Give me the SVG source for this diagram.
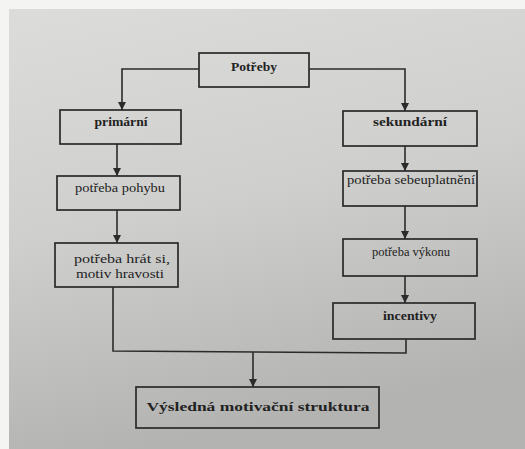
<svg xmlns="http://www.w3.org/2000/svg" width="525" height="449" viewBox="0 0 525 449">
<defs>
<linearGradient id="pg" x1="0" y1="0" x2="0.25" y2="1">
<stop offset="0" stop-color="#dcdcda"/>
<stop offset="0.5" stop-color="#cfcfcd"/>
<stop offset="1" stop-color="#b3b3b1"/>
</linearGradient>
<marker id="ah" viewBox="0 0 10 10" refX="10" refY="5" markerWidth="8" markerHeight="9" markerUnits="userSpaceOnUse" orient="auto">
<path d="M0,0 L10,5 L0,10 Z" fill="#2b2b2b"/>
</marker>
<style>
.box{fill:none;stroke:#2a2a2a;stroke-width:1.7}
.t{fill:#222222;font-size:13px;text-anchor:middle}
.b{font-weight:bold}
.c{fill:none;stroke:#2b2b2b;stroke-width:1.6}
</style>
</defs>
<rect width="525" height="449" fill="#f4f4f3"/>
<rect x="9" y="9" width="516" height="440" fill="url(#pg)"/>
<g id="connectors">
<path class="c" d="M199,69 H122 V110" marker-end="url(#ah)"/>
<path class="c" d="M309,69 H405 V111" marker-end="url(#ah)"/>
<path class="c" d="M117,144 V176" marker-end="url(#ah)"/>
<path class="c" d="M117,210 V243" marker-end="url(#ah)"/>
<path class="c" d="M405,146 V171" marker-end="url(#ah)"/>
<path class="c" d="M405,206 V239" marker-end="url(#ah)"/>
<path class="c" d="M405,276 V303" marker-end="url(#ah)"/>
<path class="c" d="M113,287 V351 L406,353 V339"/>
<path class="c" d="M253,352 V387" marker-end="url(#ah)"/>
</g>
<g font-family="Liberation Serif, Times New Roman, DejaVu Serif, serif">
<g id="potreby">
<rect class="box" x="199" y="53" width="110" height="34"/>
<text class="t b" x="254" y="71" textLength="46" lengthAdjust="spacingAndGlyphs">Potřeby</text>
</g>
<g id="primarni">
<rect class="box" x="60" y="110" width="121" height="34"/>
<text class="t b" x="121" y="126" textLength="53" lengthAdjust="spacingAndGlyphs">primární</text>
</g>
<g id="sekundarni">
<rect class="box" x="343" y="111" width="134" height="35"/>
<text class="t b" x="410" y="126" textLength="74" lengthAdjust="spacingAndGlyphs">sekundární</text>
</g>
<g id="pohybu">
<rect class="box" x="57" y="176" width="123" height="34"/>
<text class="t" x="120" y="192" textLength="90" lengthAdjust="spacingAndGlyphs">potřeba pohybu</text>
</g>
<g id="hrat">
<rect class="box" x="55" y="243" width="123" height="44"/>
<text class="t" x="122" y="263" textLength="96" lengthAdjust="spacingAndGlyphs">potřeba hrát si,</text>
<text class="t" x="120" y="278" textLength="88" lengthAdjust="spacingAndGlyphs">motiv hravosti</text>
</g>
<g id="sebeuplatneni">
<rect class="box" x="343" y="171" width="134" height="35"/>
<text class="t" x="411" y="184" textLength="128" lengthAdjust="spacingAndGlyphs">potřeba sebeuplatnění</text>
</g>
<g id="vykonu">
<rect class="box" x="343" y="239" width="134" height="37"/>
<text class="t" x="411" y="256" textLength="78" lengthAdjust="spacingAndGlyphs">potřeba výkonu</text>
</g>
<g id="incentivy">
<rect class="box" x="333" y="303" width="142" height="36"/>
<text class="t b" x="410" y="320" textLength="54" lengthAdjust="spacingAndGlyphs">incentivy</text>
</g>
<g id="vysledna">
<rect class="box" x="136" y="387" width="243" height="41" stroke-width="2"/>
<text class="t b" x="258" y="411" font-size="16" textLength="223" lengthAdjust="spacingAndGlyphs">Výsledná motivační struktura</text>
</g>
</g>
</svg>
